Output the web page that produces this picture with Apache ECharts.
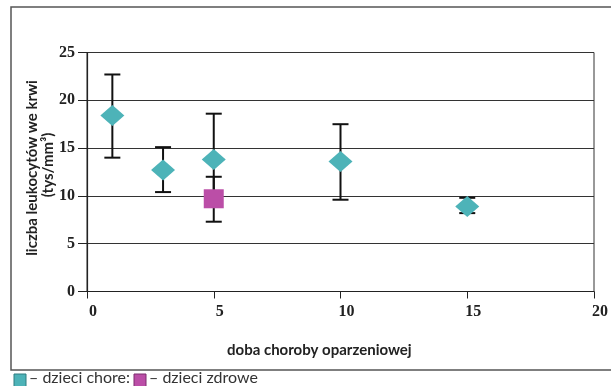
<!DOCTYPE html>
<html>
<head>
<meta charset="utf-8">
<script src="https://cdn.jsdelivr.net/npm/echarts@6/dist/echarts.min.js"></script>
<style>
html,body{margin:0;padding:0;background:#fff;}
#chart{width:611px;height:386px;}
</style>
</head>
<body>
<div id="chart"></div>
<script>
// Data
const sickDays = [1, 3, 5, 10, 15];
const sickMean = [18.4, 12.7, 13.8, 13.6, 8.9];
const sickHigh = [22.7, 15.1, 18.6, 17.5, 9.8];
const sickLow = [14.0, 10.4, 9.0, 9.6, 8.2];
const healthyDays = [5];
const healthyMean = [9.7];
const healthyHigh = [12.0];
const healthyLow = [7.3];
const xTicks = [0, 5, 10, 15, 20];
const yTicks = [0, 5, 10, 15, 20, 25];

const xName = 'doba choroby oparzeniowej';
const yName1 = 'liczba leukocytów we krwi';
const yName2 = '(tys/mm³)';
const legendSick = '– dzieci chore:';
const legendHealthy = '– dzieci zdrowe';

const teal = '#4DB3B8';
const pink = '#BB4EA7';

const errSick = sickDays.map((d, i) => [d, sickLow[i], sickHigh[i]]);
const errHealthy = healthyDays.map((d, i) => [d, healthyLow[i], healthyHigh[i]]);

function errRender(params, api) {
  const x = api.value(0);
  const pHi = api.coord([x, api.value(2)]);
  const pLo = api.coord([x, api.value(1)]);
  const hw = 8;
  const st = { stroke: '#111', lineWidth: 2 };
  return {
    type: 'group',
    children: [
      { type: 'line', shape: { x1: pHi[0], y1: pHi[1], x2: pLo[0], y2: pLo[1] }, style: st },
      { type: 'line', shape: { x1: pHi[0] - hw, y1: pHi[1], x2: pHi[0] + hw, y2: pHi[1] }, style: st },
      { type: 'line', shape: { x1: pLo[0] - hw, y1: pLo[1], x2: pLo[0] + hw, y2: pLo[1] }, style: st }
    ]
  };
}

const labelFont = 'Liberation Serif';
const nameFont = '"Liberation Sans Narrow", Lato, sans-serif';

const chart = echarts.init(document.getElementById('chart'), null, { renderer: 'canvas' });
chart.setOption({
  animation: false,
  backgroundColor: '#fff',
  grid: { left: 87, right: 11, top: 52.5, bottom: 94.5, show: true, borderColor: '#333', borderWidth: 1, containLabel: false },
  xAxis: {
    type: 'value', min: xTicks[0], max: xTicks[xTicks.length - 1], interval: 5,
    axisLine: { show: true, lineStyle: { color: '#222', width: 1.2 } },
    axisTick: { show: true, length: 7, lineStyle: { color: '#222' } },
    splitLine: { show: false },
    axisLabel: { fontFamily: labelFont, fontWeight: 'bold', fontSize: 16, color: '#222', margin: 12, padding: [0, 0, 0, 12] }
  },
  yAxis: {
    type: 'value', min: yTicks[0], max: yTicks[yTicks.length - 1], interval: 5,
    axisLine: { show: true, lineStyle: { color: '#222', width: 1.2 } },
    axisTick: { show: true, length: 9, lineStyle: { color: '#222' } },
    splitLine: { show: true, lineStyle: { color: '#333', width: 1 } },
    axisLabel: { fontFamily: labelFont, fontWeight: 'bold', fontSize: 16, color: '#222', margin: 12 }
  },
  graphic: [
    { type: 'rect', shape: { x: 11, y: 7, width: 640, height: 363 }, style: { fill: 'none', stroke: '#555', lineWidth: 1.5 }, z: -1 },
    { type: 'text', x: 32, y: 168, rotation: Math.PI / 2, style: { text: yName1, font: 'bold 15px ' + nameFont, fill: '#222', align: 'center', verticalAlign: 'middle' } },
    { type: 'text', x: 48, y: 165, rotation: Math.PI / 2, style: { text: yName2, font: 'bold 15px ' + nameFont, fill: '#222', align: 'center', verticalAlign: 'middle' } },
    { type: 'text', left: 227, top: 343, style: { text: xName, font: 'bold 15px ' + nameFont, fill: '#222' } },
    { type: 'rect', shape: { x: 14, y: 374, width: 12, height: 14 }, style: { fill: teal, stroke: '#2f7d80', lineWidth: 1 } },
    { type: 'text', left: 29, top: 370, style: { text: legendSick, font: '16px Lato, sans-serif', fill: '#333' } },
    { type: 'rect', shape: { x: 134, y: 374, width: 12, height: 14 }, style: { fill: pink, stroke: '#7d2d6f', lineWidth: 1 } },
    { type: 'text', left: 149, top: 370, style: { text: legendHealthy, font: '16px Lato, sans-serif', fill: '#333' } }
  ],
  series: [
    { type: 'custom', renderItem: errRender, data: errSick, encode: { x: 0, y: [1, 2] }, z: 2 },
    { type: 'custom', renderItem: errRender, data: errHealthy, encode: { x: 0, y: [1, 2] }, z: 2 },
    { type: 'scatter', data: sickDays.map((d, i) => [d, sickMean[i]]), symbol: 'diamond', symbolSize: [24, 21], itemStyle: { color: teal, opacity: 1 }, z: 3 },
    { type: 'scatter', data: healthyDays.map((d, i) => [d, healthyMean[i]]), symbol: 'rect', symbolSize: [20, 19], itemStyle: { color: pink, opacity: 1 }, z: 4 }
  ]
});
</script>
</body>
</html>
